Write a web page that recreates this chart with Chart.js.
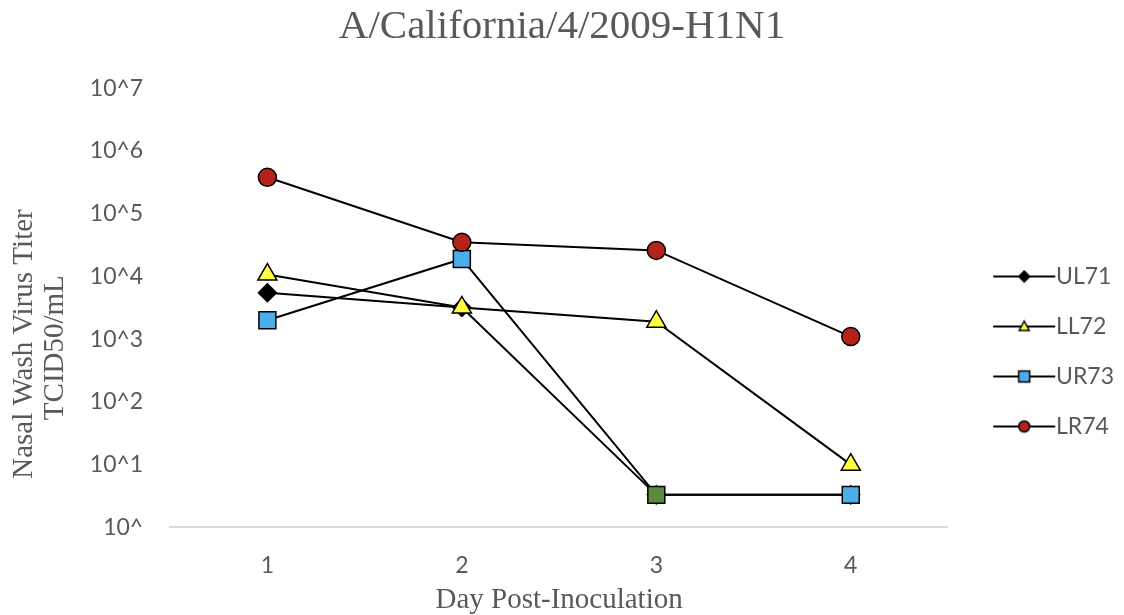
<!DOCTYPE html>
<html>
<head>
<meta charset="utf-8">
<script src="https://cdn.jsdelivr.net/npm/chart.js@4"></script>
<style>
  html, body { margin: 0; padding: 0; background: #fff; }
  #wrap { width: 1124px; height: 615px; }
</style>
</head>
<body>
<div id="wrap"><canvas id="titerChart"></canvas></div>
<script>
// Nasal wash titers per ferret, days 1-4
const days = ['1', '2', '3', '4'];
const tickValues = [1, 10, 100, 1000, 10000, 100000, 1000000, 10000000];
const tickLabels = ['10^', '10^1', '10^2', '10^3', '10^4', '10^5', '10^6', '10^7'];

const ul71 = [5500, 3200, 3.3, 3.3];
const ll72 = [10700, 3200, 1900, 10];
const ur73 = [2000, 19000, 3.3, 3.3];
const lr74 = [380000, 35000, 26000, 1100];

const GREY = '#595959';
const SERIF = '"Liberation Serif", "Times New Roman", serif';
const SANS = 'Lato, "Open Sans", sans-serif';

// legend icon: short line with the marker sitting on it
function makeLegendIcon(shape, fill) {
    const c = document.createElement('canvas');
    c.width = 95;
    c.height = 16;
    const g = c.getContext('2d');
    const x0 = 31, x1 = 93, cx = 62, cy = 8;
    g.strokeStyle = '#000';
    g.lineWidth = 2;
    g.beginPath();
    g.moveTo(x0, cy);
    g.lineTo(x1, cy);
    g.stroke();
    g.fillStyle = fill;
    g.lineWidth = 1.5;
    g.beginPath();
    if (shape === 'diamond') {
        g.moveTo(cx, cy - 5.5); g.lineTo(cx + 5.5, cy); g.lineTo(cx, cy + 5.5); g.lineTo(cx - 5.5, cy);
    } else if (shape === 'triangle') {
        g.moveTo(cx, cy - 5.5); g.lineTo(cx + 5, cy + 4); g.lineTo(cx - 5, cy + 4);
    } else if (shape === 'square') {
        g.rect(cx - 5.5, cy - 5.5, 11, 11);
    } else {
        g.arc(cx, cy, 5.5, 0, Math.PI * 2);
    }
    g.closePath();
    g.fill();
    g.stroke();
    return c;
}

const legendIcons = [
    makeLegendIcon('diamond', '#000000'),
    makeLegendIcon('triangle', '#FFFF3F'),
    makeLegendIcon('square', '#4BAEEA'),
    makeLegendIcon('circle', '#B5221A')
];

const ctx = document.getElementById('titerChart').getContext('2d');

new Chart(ctx, {
    type: 'line',
    data: {
        labels: days,
        datasets: [
            {
                label: 'UL71',
                data: ul71,
                order: 4,
                borderColor: '#000',
                borderWidth: 2,
                pointStyle: 'rectRot',
                pointRadius: 9,
                pointBackgroundColor: '#000',
                pointBorderColor: '#000',
                pointBorderWidth: 1.5
            },
            {
                label: 'LL72',
                data: ll72,
                order: 3,
                borderColor: '#000',
                borderWidth: 2,
                pointStyle: 'triangle',
                pointRadius: 11,
                pointBackgroundColor: '#FFFF3F',
                pointBorderColor: '#000',
                pointBorderWidth: 1.5
            },
            {
                label: 'UR73',
                data: ur73,
                order: 2,
                borderColor: '#000',
                borderWidth: 2,
                pointStyle: 'rect',
                pointRadius: 12,
                pointBackgroundColor: ['#4BAEEA', '#4BAEEA', '#5A8A3C', '#4BAEEA'],
                pointBorderColor: '#000',
                pointBorderWidth: 1.5
            },
            {
                label: 'LR74',
                data: lr74,
                order: 1,
                borderColor: '#000',
                borderWidth: 2,
                pointStyle: 'circle',
                pointRadius: 9,
                pointBackgroundColor: '#B5221A',
                pointBorderColor: '#000',
                pointBorderWidth: 1.5
            }
        ]
    },
    options: {
        responsive: true,
        maintainAspectRatio: false,
        animation: false,
        events: [],
        layout: {
            padding: { left: 0, right: 0, top: 0, bottom: 0 }
        },
        plugins: {
            title: {
                display: true,
                text: 'A/California/4/2009-H1N1',
                color: GREY,
                font: { family: SERIF, size: 41, weight: 'normal' },
                padding: { top: 3, bottom: 36 }
            },
            legend: {
                position: 'right',
                // empty title only pushes the items down to mid-plot
                title: {
                    display: true,
                    text: '',
                    font: { size: 10, lineHeight: 1 },
                    padding: { top: 78, bottom: 0 }
                },
                labels: {
                    usePointStyle: true,
                    pointStyleWidth: 69.5,
                    padding: 27,
                    color: GREY,
                    font: { family: SANS, size: 23 },
                    sort: (a, b) => a.datasetIndex - b.datasetIndex,
                    generateLabels: (chart) => {
                        const items = Chart.defaults.plugins.legend.labels.generateLabels(chart);
                        items.forEach(item => {
                            item.pointStyle = legendIcons[item.datasetIndex];
                        });
                        return items;
                    }
                }
            },
            tooltip: { enabled: false }
        },
        scales: {
            x: {
                type: 'category',
                offset: true,
                grid: { display: false, drawTicks: false },
                border: { display: true, color: '#D9D9D9', width: 2 },
                ticks: {
                    color: GREY,
                    font: { family: SANS, size: 23 },
                    padding: 24
                },
                title: {
                    display: true,
                    text: 'Day Post-Inoculation',
                    color: GREY,
                    font: { family: SERIF, size: 29, lineHeight: 1 },
                    padding: { top: -17, bottom: 0 }
                }
            },
            y: {
                type: 'logarithmic',
                min: 1,
                max: 10000000,
                grid: { display: false, drawTicks: false },
                border: { display: false },
                afterBuildTicks: (scale) => {
                    scale.ticks = tickValues.map(v => ({ value: v }));
                },
                ticks: {
                    color: GREY,
                    font: { family: SANS, size: 23 },
                    padding: 27,
                    callback: (value) => {
                        const i = tickValues.indexOf(value);
                        return i >= 0 ? tickLabels[i] : '';
                    }
                },
                title: {
                    display: true,
                    text: ['Nasal Wash Virus Titer          ', 'TCID50/mL           '],
                    color: GREY,
                    font: { family: SERIF, size: 29, lineHeight: 1.1 },
                    padding: { top: 8, bottom: -9 }
                }
            }
        }
    }
});
</script>
</body>
</html>
